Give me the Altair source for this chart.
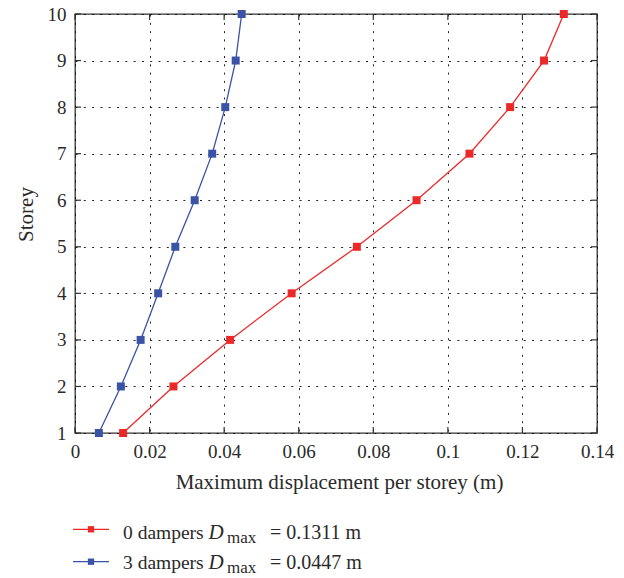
import altair as alt
import pandas as pd

# ---- data ----
storeys = [1, 2, 3, 4, 5, 6, 7, 8, 9, 10]
disp_0_dampers = [0.0129, 0.0264, 0.0416, 0.0581, 0.0756, 0.0916, 0.1058, 0.1167, 0.1258, 0.1311]
disp_3_dampers = [0.0064, 0.0123, 0.0176, 0.0223, 0.0269, 0.0321, 0.0368, 0.0403, 0.0431, 0.0447]
series_names = ["0 dampers", "3 dampers"]
series_dmax = ["= 0.1311 m", "= 0.0447 m"]
series_colors = ["#ec2929", "#3a53a6"]
x_ticks = [0, 0.02, 0.04, 0.06, 0.08, 0.1, 0.12, 0.14]
y_ticks = [1, 2, 3, 4, 5, 6, 7, 8, 9, 10]

W, H = 522, 419
FONT = "Liberation Serif"
TXT = "#2a2a2a"

rows = []
for name, vals in zip(series_names, [disp_0_dampers, disp_3_dampers]):
    for s, v in zip(storeys, vals):
        rows.append({"series": name, "storey": s, "disp": v})
df = pd.DataFrame(rows)

xscale = alt.Scale(domain=[0, 0.14], nice=False, zero=False)
yscale = alt.Scale(domain=[1, 10], nice=False, zero=False)
cscale = alt.Scale(domain=series_names, range=series_colors)

x_enc = alt.X(
    "disp:Q", scale=xscale,
    axis=alt.Axis(values=x_ticks, format=".2~f", title="Maximum displacement per storey (m)",
                  titleY=55, titleX=264, titleBaseline="alphabetic", labelFlush=False),
)
y_enc = alt.Y(
    "storey:Q", scale=yscale,
    axis=alt.Axis(values=y_ticks, format="d", title="Storey", labelFlush=False,
                  titleX=-49, titleY=200, titleBaseline="middle", titleAngle=-90),
)

lines = alt.Chart(df).mark_line(strokeWidth=1.3).encode(
    x=x_enc, y=y_enc,
    color=alt.Color("series:N", scale=cscale, legend=None),
    detail="series:N",
)
points = alt.Chart(df).mark_square(size=64, opacity=1, filled=True).encode(
    x=alt.X("disp:Q", scale=xscale),
    y=alt.Y("storey:Q", scale=yscale),
    color=alt.Color("series:N", scale=cscale, legend=None),
)

# inward ticks on all four sides
ydf = pd.DataFrame({"storey": y_ticks})
xdf = pd.DataFrame({"disp": x_ticks})
TK = 6
tick_col = "#333333"
tl = alt.Chart(ydf).mark_rule(color=tick_col, strokeWidth=1.2).encode(
    y=alt.Y("storey:Q", scale=yscale), x=alt.value(0), x2=alt.value(TK))
tr = alt.Chart(ydf).mark_rule(color=tick_col, strokeWidth=1.2).encode(
    y=alt.Y("storey:Q", scale=yscale), x=alt.value(W - TK), x2=alt.value(W))
tb = alt.Chart(xdf).mark_rule(color=tick_col, strokeWidth=1.2).encode(
    x=alt.X("disp:Q", scale=xscale), y=alt.value(H - TK), y2=alt.value(H))
tt = alt.Chart(xdf).mark_rule(color=tick_col, strokeWidth=1.2).encode(
    x=alt.X("disp:Q", scale=xscale), y=alt.value(0), y2=alt.value(TK))

# custom legend below the plot (with subscript)
one = pd.DataFrame({"k": [0]})
legend_layers = []
for i, (name, dmax, col) in enumerate(zip(series_names, series_dmax, series_colors)):
    ly = 515.3 + i * 32.4      # legend line y (relative to plot top)
    by = 524.7 + i * 30.6      # text baseline
    legend_layers += [
        alt.Chart(one).mark_rule(color=col, strokeWidth=1.3).encode(
            x=alt.value(-2), x2=alt.value(34), y=alt.value(ly)),
        alt.Chart(one).mark_square(color=col, size=40, opacity=1).encode(
            x=alt.value(16), y=alt.value(ly)),
        alt.Chart(one).mark_text(align="left", baseline="alphabetic", font=FONT, fontSize=19.5,
                                 color=TXT).encode(
            x=alt.value(48), y=alt.value(by), text=alt.value(name)),
        alt.Chart(one).mark_text(align="left", baseline="alphabetic", font=FONT, fontSize=21,
                                 fontStyle="italic", color=TXT).encode(
            x=alt.value(133.5), y=alt.value(by), text=alt.value("D")),
        alt.Chart(one).mark_text(align="left", baseline="alphabetic", font=FONT, fontSize=17,
                                 color=TXT).encode(
            x=alt.value(152), y=alt.value(by + 4), text=alt.value("max")),
        alt.Chart(one).mark_text(align="left", baseline="alphabetic", font=FONT, fontSize=20,
                                 color=TXT).encode(
            x=alt.value(195), y=alt.value(by), text=alt.value(dmax)),
    ]

chart = alt.layer(lines, points, tl, tr, tb, tt, *legend_layers).properties(
    width=W, height=H,
    autosize=alt.AutoSizeParams(type="none"),
    padding={"left": 75, "top": 14, "right": 27, "bottom": 145},
    background="white",
).configure_view(
    stroke="#333333", strokeWidth=1.3,
).configure_axis(
    domain=False, ticks=False,
    grid=True, gridColor="#000000", gridDash=[2, 6.3], gridWidth=1, gridOpacity=0.85,
    labelFont=FONT, labelFontSize=19, labelColor=TXT, labelPadding=9,
    titleFont=FONT, titleFontSize=21, titleFontWeight="normal", titleColor=TXT,
)

chart.save("out.html", embed_options={"renderer": "svg", "actions": False})
